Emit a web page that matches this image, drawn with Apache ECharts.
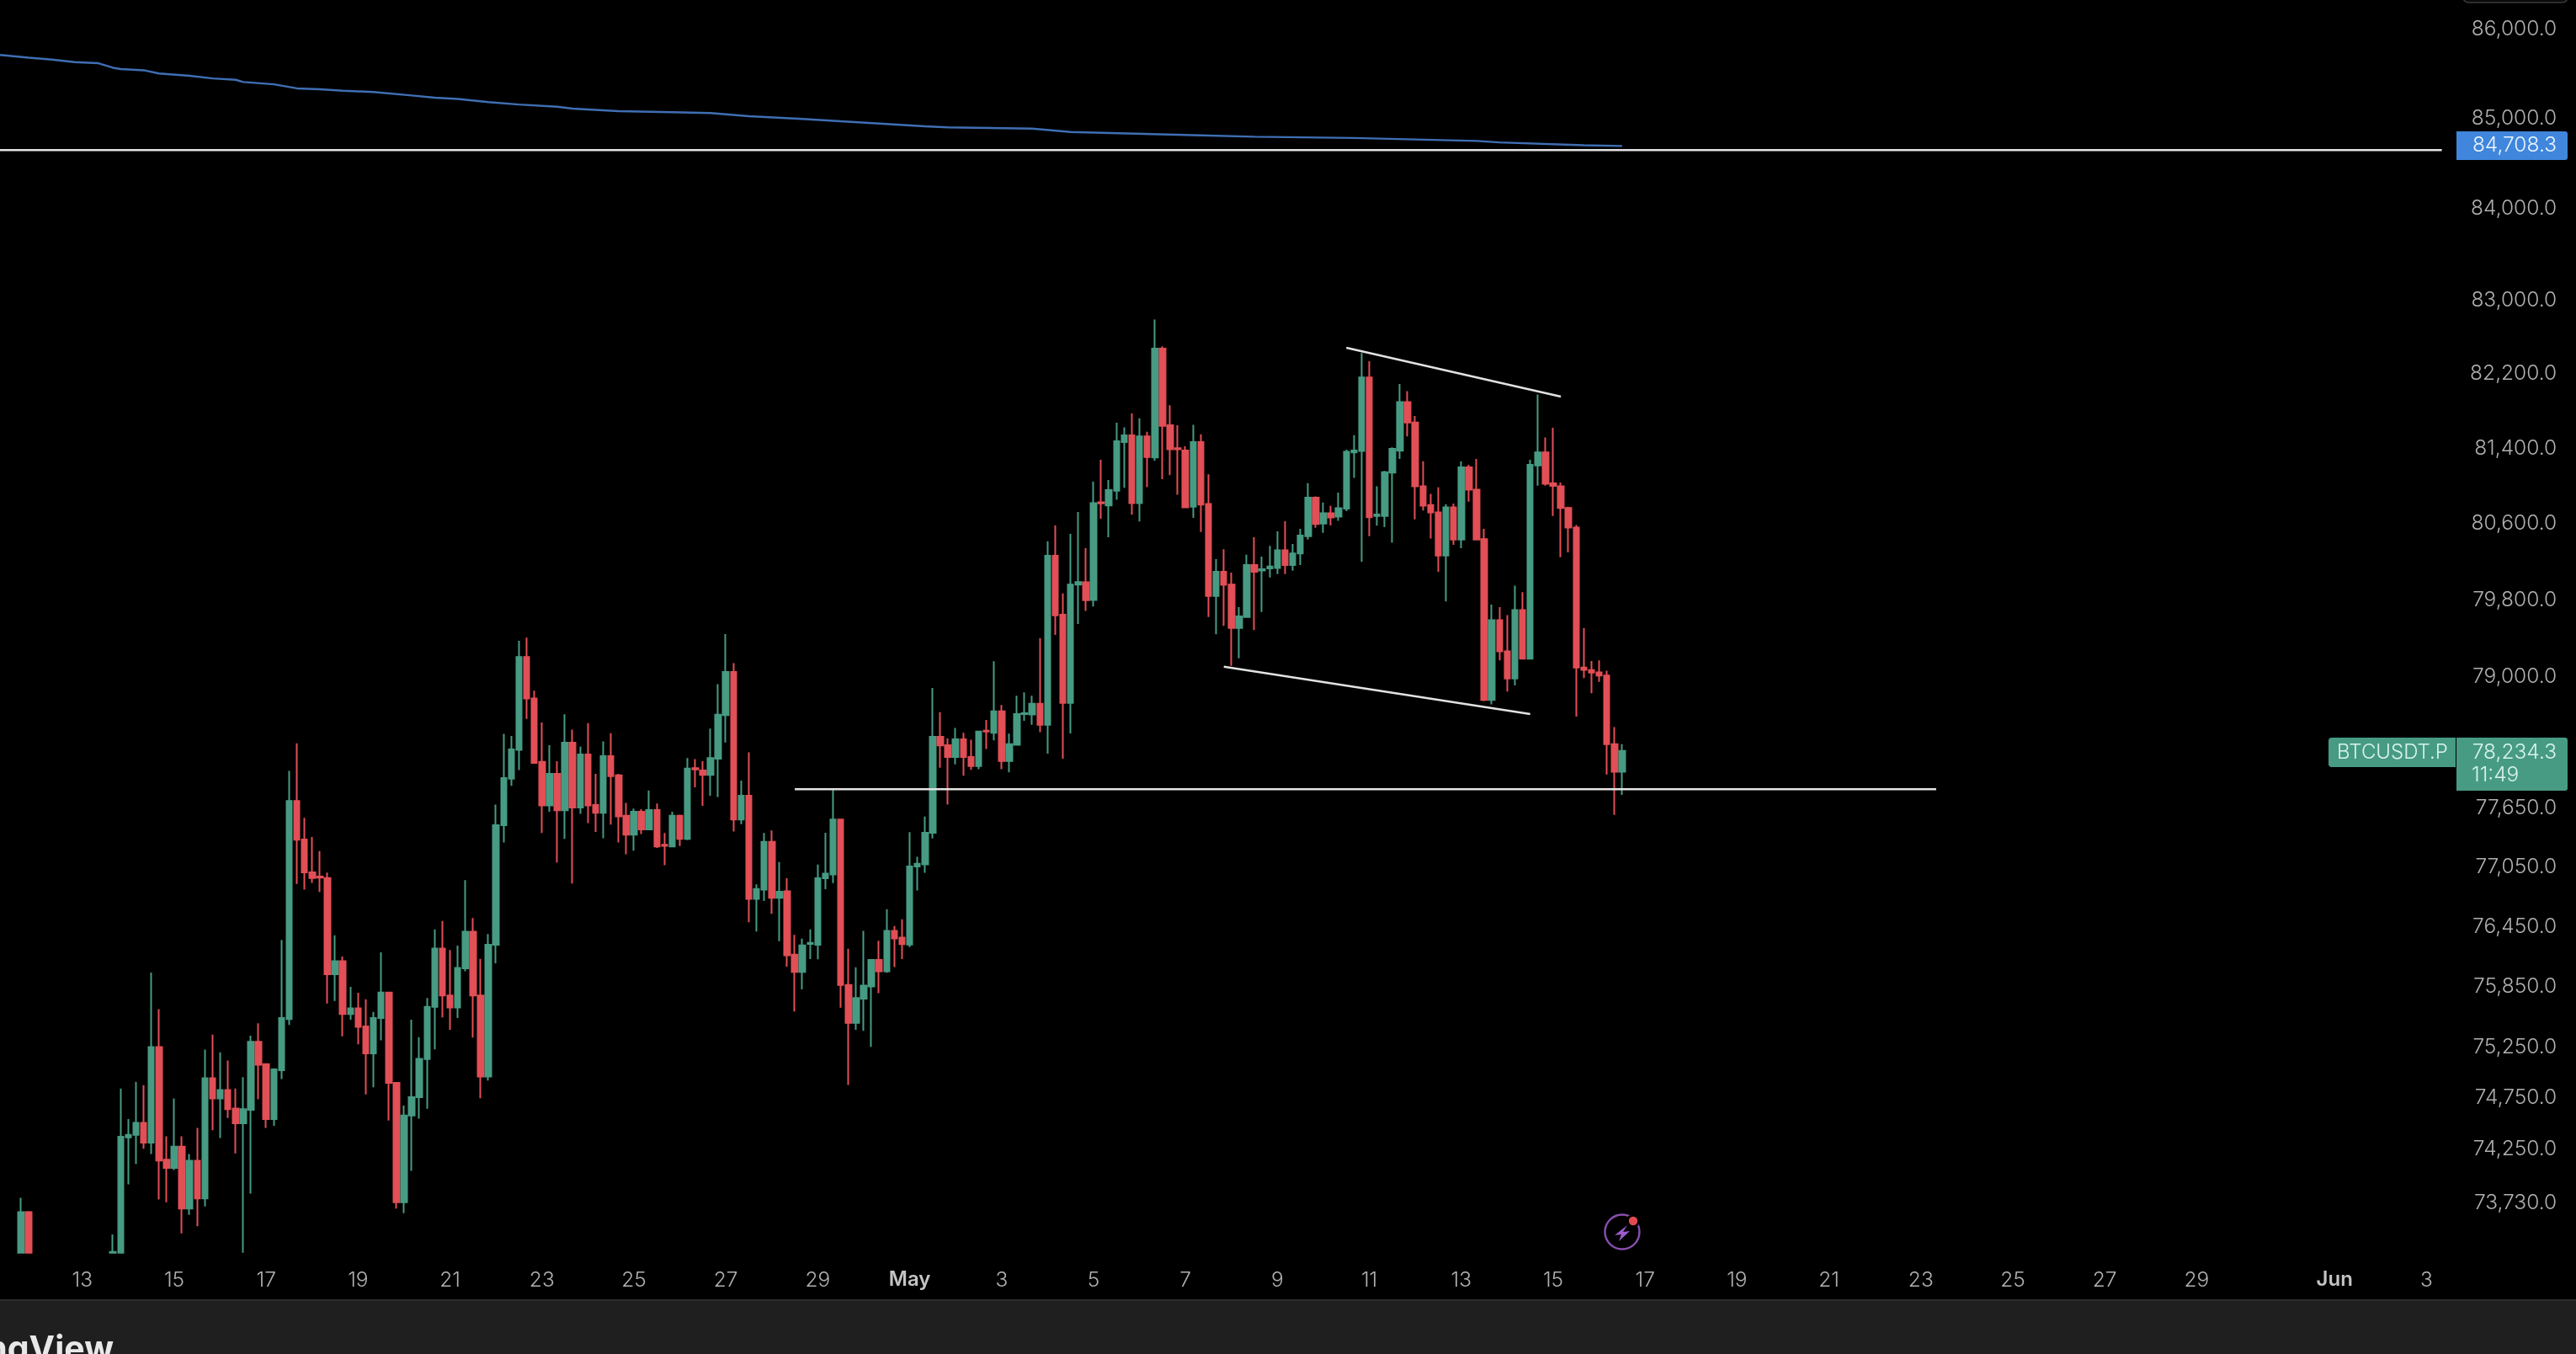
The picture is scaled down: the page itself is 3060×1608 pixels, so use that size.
<!DOCTYPE html>
<html>
<head>
<meta charset="utf-8">
<style>html,body{margin:0;padding:0;background:#000}#c{width:3060px;height:1608px}</style>
<script src="https://cdn.jsdelivr.net/npm/echarts@6/dist/echarts.min.js"></script>
</head>
<body>
<div id="c"></div>
<script>
// 4h candles; the first two are cut by the pane bottom, the next ten lie below it (null)
const opens = [
73250,73641,null,null,null,null,null,null,null,null,
null,null,73250,73250,74366,74390,74507,74314,75253,74148,
74069,74276,73675,74138,73772,74945,74746,74830,74648,74503,
74635,75305,75084,74545,75025,75529,77721,77330,76998,76955,
76940,75974,76105,75579,75635,75456,75190,75540,75793,74899,
73737,74579,74760,75133,75651,76231,75764,75644,76033,76400,
75764,74962,76270,77475,77950,78245,79204,78774,78121,77677,
77998,77626,78318,77655,78198,77680,77601,78179,77983,77572,
77378,77612,77432,77630,77277,77259,77572,77335,78056,78034,
77987,78154,78602,79049,77533,77774,76730,76823,77306,76741,
76805,76171,75998,76277,76270,76937,76976,77533,75867,75491,
75732,75854,76118,76005,76408,76340,76272,77056,77079,77399,
78379,78293,78171,78352,78171,78079,78442,78419,78641,78131,
78296,78612,78609,78719,78503,80262,79644,78729,79960,79984,
79799,80828,80795,80950,81468,81540,80819,81529,81304,82474,
81648,81403,81379,80780,81468,80810,79840,80094,79960,79506,
79620,80165,80108,80129,80135,80321,80165,80286,80469,80876,
80602,80712,80677,80760,81358,81373,82162,80682,80682,81142,
81377,81898,81678,80997,80798,80720,80264,80774,80433,81200,
80962,80439,78759,79587,79262,78981,79692,79185,81220,81358,
81028,80997,80767,80560,79095,79068,79045,79011,78303,78020];
const closes = [
73641,73250,null,null,null,null,null,null,null,null,
null,null,73258,74372,74390,74507,74314,75253,74141,74069,
74276,73675,74138,73772,74945,74746,74830,74641,74503,74641,
75305,75077,74545,75032,75540,77721,77328,76998,76940,76944,
75974,76105,75579,75635,75452,75190,75540,75793,74899,73737,
74579,74760,75137,75651,76231,75764,75644,76037,76400,75764,
74962,76270,77475,77955,78248,79204,78774,78110,77677,77998,
77626,78318,77655,78198,77677,77601,78179,77976,77565,77378,
77612,77432,77630,77259,77266,77572,77335,78053,78045,77987,
78161,78606,79049,77533,77774,76730,76830,77306,76741,76801,
76164,75998,76263,76288,76938,76985,77533,75867,75491,75738,
75861,76118,76005,76408,76333,76275,77056,77085,77399,78379,
78290,78171,78352,78171,78079,78432,78432,78641,78131,78303,
78612,78622,78719,78503,80262,79638,78729,79960,79987,79796,
80819,80816,80957,81477,81540,80819,81529,81310,82474,81642,
81392,81392,80775,81468,80804,79840,80094,79957,79506,79626,
80165,80094,80120,80150,80321,80165,80286,80475,80876,80597,
80712,80668,80766,81364,81379,82162,80670,80699,81148,81396,
81898,81678,80997,80791,80720,80264,80774,80433,81200,80962,
80433,78759,79587,79262,78981,79692,79185,81227,81358,81024,
81001,80767,80560,79095,79071,79041,79011,78303,78020,78234];
const lows = [
73250,73250,null,null,null,null,null,null,null,null,
null,null,73250,73250,73910,74107,74255,74203,73762,73737,
74048,73436,73614,73505,73696,74435,74359,74555,74210,73250,
73820,74739,74459,74479,74938,75470,76880,76822,76890,76800,
75684,75708,75358,75522,75280,74786,74857,75319,74531,73675,
73631,74041,74549,74645,75230,75546,75423,75539,76005,75345,
74749,74923,76083,77299,77875,78038,78562,78107,77396,77612,
77098,77335,76884,77590,77497,77407,77342,77482,77299,77180,
77216,77385,77432,77245,77069,77252,77263,77324,77860,77673,
77774,77763,78321,77410,77486,76494,76401,76708,76580,76305,
76051,75605,75824,76125,76124,76828,76888,75641,74880,75422,
75412,75254,75787,75989,76047,76125,76246,76814,76992,77340,
78062,77684,78095,77980,78039,78046,78254,78342,78046,78013,
78296,78543,78503,78426,78205,79433,78153,78414,79547,79685,
79731,80653,80458,80855,80981,80697,80624,80988,81268,81074,
81116,80909,80770,80662,80514,79620,79440,79527,79112,79190,
79615,79483,79673,80034,80069,80069,80105,80165,80433,80558,
80505,80582,80632,80735,81086,80198,80469,80580,80564,80401,
81289,81529,80648,80740,80444,80095,79783,80377,80343,80835,
80429,78745,78712,79169,78845,78908,79179,79179,81004,81004,
80682,80247,80298,78586,78985,78828,78945,77993,77579,77783];
const highs = [
73779,73650,null,null,null,null,null,null,null,null,
null,null,73426,74844,74545,74910,74878,75992,75628,74376,
74746,74376,74203,74459,75228,75375,75200,75120,74844,74955,
75365,75487,75090,75042,76317,78028,78311,77550,77355,77212,
76994,76363,76151,75850,75790,75726,75600,76193,75800,74903,
74676,75522,75350,75739,76423,76508,76217,76260,76919,76537,
76129,76376,77684,78409,78387,79373,79406,78855,78526,78292,
78129,78610,78453,78278,78519,77998,78332,78416,77998,77702,
77644,77637,77828,77695,77396,77612,77583,78161,78150,78129,
78464,78921,79443,79141,77929,78219,76877,77396,77421,77102,
76938,76369,76330,76423,77075,77399,77846,77540,76229,76044,
76408,76125,76310,76625,76456,76524,77405,77154,77563,78882,
78632,78362,78469,78419,78349,78440,78552,79160,78707,78412,
78803,78836,78803,79398,80416,80582,79867,80493,80724,80342,
81046,81280,81064,81675,81627,81775,81723,81579,82789,82498,
81863,81648,81424,81654,81552,81125,80227,80331,80085,79723,
80274,80458,80253,80366,80520,80626,80387,80546,81032,80890,
80825,80789,80930,81388,81543,82426,82337,80997,81160,81413,
82091,82014,81747,81265,80917,80986,80808,80815,81262,81227,
81289,80546,79749,79723,79639,79948,79881,81279,81979,81519,
81622,81038,80781,80587,79504,79162,79169,79062,78479,78303];

// slow moving average: bar index and value
const maIndex = [0,4,7,10,13,15,16,19,21,25,28,31,32,36,39,42,45,49,54,57,60,64,68,73,75,81,88,93,98,105,110,121,124,135,140,157,164,177,193,196,207,212];
const maValue = [85715,85682,85661,85633,85621,85569,85555,85541,85505,85479,85449,85434,85409,85383,85338,85328,85312,85298,85259,85234,85220,85184,85157,85133,85111,85083,85071,85062,85027,84997,84970,84914,84902,84888,84851,84813,84798,84784,84751,84735,84704,84695];

// hand-drawn lines: [bar index, price]
const resistanceLine = [[0,84649],[319,84649]];
const supportLine = [[104,77842],[253,77842]];
const channelTop = [[176,82483],[204,81956]];
const channelBottom = [[160,79103],[200,78613]];

// axes
const yTicks = [86000,85000,84000,83000,82200,81400,80600,79800,79000,77650,77050,76450,75850,75250,74750,74250,73730];
const xTickDates = ['04-13','04-15','04-17','04-19','04-21','04-23','04-25','04-27','04-29','05-01','05-03','05-05','05-07','05-09','05-11','05-13','05-15','05-17','05-19','05-21','05-23','05-25','05-27','05-29','06-01','06-03'];
const xTickLabels = ['13','15','17','19','21','23','25','27','29','May','3','5','7','9','11','13','15','17','19','21','23','25','27','29','Jun','3'];
const maLastLabel = '84,708.3';
const symbolLabel = 'BTCUSDT.P';
const lastPriceLabel = '78,234.3';
const countdownLabel = '11:49';

// category axis: 320 four-hour slots from 11 Apr 04:00
const categories = [];
const pad = n => String(n).padStart(2, '0');
for (let i = 0; i < 320; i++) {
  const d = new Date(Date.UTC(2025, 3, 11, 4 + i * 4));
  categories.push(pad(d.getUTCMonth() + 1) + '-' + pad(d.getUTCDate()) + ' ' + pad(d.getUTCHours()) + ':00');
}
const tickMap = {};
xTickDates.forEach((d, j) => { tickMap[d + ' 00:00'] = xTickLabels[j]; });

const leadingBlanks = 3;
const candleData = [];
for (let i = 0; i < leadingBlanks; i++) candleData.push(['-', '-', '-', '-']);
opens.forEach((o, k) => {
  candleData.push(o == null ? ['-', '-', '-', '-'] : [o, closes[k], lows[k], highs[k]]);
});

const GREEN = '#479b83', RED = '#e24f56', WHITE = '#e2e2e2', FONT = 'Inter';
const whiteLine = (name, data, width) => ({
  name, type: 'line', data, z: 5, symbol: 'none', silent: true, animation: false,
  lineStyle: { color: WHITE, width: width || 2.6 }
});
const label = (x, y, text, fill, align, size) => ({
  type: 'text', z: 20, silent: true, x, y,
  style: { text, fill, font: '300 ' + (size || 24.5) + 'px ' + FONT, align: align || 'right', verticalAlign: 'middle' }
});

const chart = echarts.init(document.getElementById('c'), null, { renderer: 'canvas', width: 3060, height: 1608 });
chart.setOption({
  animation: false,
  backgroundColor: '#000',
  grid: { left: -6.85, top: 0, width: 2912, height: 1488, containLabel: false, outerBoundsMode: 'none' },
  xAxis: {
    type: 'category', data: categories, boundaryGap: true,
    axisLine: { show: false }, axisTick: { show: false }, splitLine: { show: false },
    axisLabel: {
      interval: (i, v) => tickMap[v] !== undefined,
      formatter: v => {
        const t = tickMap[v];
        if (t === undefined) return '';
        return isNaN(+t) ? '{b|' + t + '}' : t;
      },
      color: '#b0b0b0', fontFamily: FONT, fontSize: 24.5, fontWeight: 300, margin: 20,
      rich: { b: { color: '#c4c4c4', fontFamily: FONT, fontSize: 24, fontWeight: 600 } }
    }
  },
  yAxis: {
    type: 'log', logBase: 10, position: 'right', min: 73247, max: 86333, scale: true,
    axisLine: { show: false }, axisTick: { show: false }, splitLine: { show: false }, minorTick: { show: false },
    axisLabel: {
      customValues: yTicks, align: 'right', margin: 132, color: '#b0b0b0', fontFamily: FONT, fontSize: 24.5, fontWeight: 300,
      padding: [6, 0, 0, 0],
      formatter: v => Number(v).toLocaleString('en-US', { minimumFractionDigits: 1, maximumFractionDigits: 1 })
    }
  },
  series: [
    {
      name: 'BTCUSDT.P', type: 'candlestick', data: candleData, barWidth: 7, clip: true, z: 3, silent: true,
      itemStyle: { color: GREEN, color0: RED, borderColor: GREEN, borderColor0: RED, borderColorDoji: GREEN, borderWidth: 2 }
    },
    {
      name: 'MA', type: 'line', data: maIndex.map((x, i) => [x, maValue[i]]), z: 4, symbol: 'none', silent: true,
      lineStyle: { color: '#3f6fb4', width: 2.4 }
    },
    whiteLine('Resistance', resistanceLine),
    whiteLine('Support', supportLine),
    whiteLine('Channel top', channelTop, 2.4),
    whiteLine('Channel bottom', channelBottom, 2.4)
  ],
  graphic: [
    // footer band
    { type: 'rect', z: 15, silent: true, shape: { x: 0, y: 1543, width: 3060, height: 65 }, style: { fill: '#1f1f1f' } },
    { type: 'rect', z: 16, silent: true, shape: { x: 0, y: 1543, width: 3060, height: 2 }, style: { fill: '#2b2b2b' } },
    { type: 'text', z: 20, silent: true, x: 135, y: 1604,
      style: { text: 'TradingView', fill: '#e8e8e8', font: '700 41px ' + FONT, align: 'right', verticalAlign: 'middle' } },
    // top-right button remnant
    { type: 'rect', z: 15, silent: true, shape: { x: 2925, y: -30, width: 126, height: 33, r: 8 }, style: { fill: '#0b0b0b', stroke: '#3a3a3a', lineWidth: 1.5 } },
    // MA price tag
    { type: 'rect', z: 15, silent: true, shape: { x: 2918, y: 156, width: 132, height: 34, r: [0, 3, 3, 0] }, style: { fill: '#3f86dc' } },
    label(3037, 173, maLastLabel, '#e9f3ff'),
    // symbol and last price tags
    { type: 'rect', z: 15, silent: true, shape: { x: 2766, y: 876, width: 151, height: 35, r: [4, 0, 0, 4] }, style: { fill: GREEN } },
    { type: 'rect', z: 15, silent: true, shape: { x: 2918, y: 876, width: 132, height: 63, r: [0, 3, 3, 0] }, style: { fill: GREEN } },
    label(2842, 894, symbolLabel, '#d8f3ea', 'center', 24),
    label(3037, 894, lastPriceLabel, '#d8f3ea'),
    label(2936, 921, countdownLabel, '#d8f3ea', 'left'),
    // lightning badge
    { type: 'circle', z: 15, silent: true, shape: { cx: 1927, cy: 1463, r: 20.5 }, style: { fill: 'none', stroke: '#8a4fae', lineWidth: 2.4 } },
    { type: 'polygon', z: 16, silent: true, shape: { points: [[1933, 1455], [1918, 1467], [1926, 1466], [1923, 1474], [1936, 1462], [1928, 1463]] }, style: { fill: '#9a5ccf' } },
    { type: 'circle', z: 17, silent: true, shape: { cx: 1940, cy: 1450, r: 8 }, style: { fill: '#000' } },
    { type: 'circle', z: 18, silent: true, shape: { cx: 1940, cy: 1450, r: 5.2 }, style: { fill: '#e24a4f' } }
  ]
});
</script>
</body>
</html>
